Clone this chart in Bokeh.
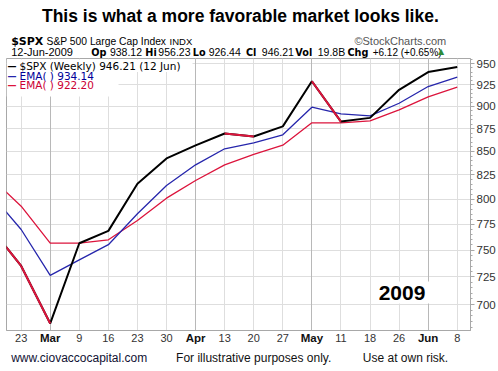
from bokeh.plotting import figure
from bokeh.layouts import column
from bokeh.models import (Range1d, FixedTicker, Label, BoxAnnotation, Grid,
                          NumeralTickFormatter, LinearAxis)
from bokeh.embed import file_html
from bokeh.resources import INLINE

# ---------------- data ----------------
week_index = list(range(-1, 16))          # -1 = week of Feb 16 (off the left edge)
tick_labels = ["23", "Mar", "9", "16", "23", "30", "Apr", "13", "20", "27",
               "May", "11", "18", "26", "Jun", "8"]
close = [770.05, 735.09, 683.38, 756.55, 768.54, 815.94, 842.50, 856.56, 869.60,
         866.23, 877.52, 929.23, 882.88, 887.00, 919.14, 940.09, 946.21]
ema_blue = [804.0, 769.9, 726.3, 740.8, 755.2, 785.4, 814.1, 835.7, 852.9,
            859.4, 868.2, 899.1, 891.6, 889.3, 903.6, 923.0, 934.14]
ema_red = [821.0, 793.0, 756.6, 756.6, 759.9, 778.7, 801.1, 819.3, 835.7,
           846.8, 856.8, 881.5, 881.5, 883.7, 896.1, 911.0, 922.20]
y_ticks = [700, 725, 750, 775, 800, 825, 850, 875, 900, 925, 950]

BLACK = "#000000"
BLUE = "#2626ac"
RED = "#dc143c"
GRID = "#dedede"
MONTH_GRID = "#b8b8b8"
AXIS = "#a8a8a8"

W = 498
HEADER_H = 58
MAIN_H = 288
FOOTER_H = 25
FRAME_LEFT = 6
FRAME_BOTTOM = 330


def strip(height):
    f = figure(width=W, height=height, x_range=Range1d(0, W), y_range=Range1d(0, height),
               output_backend="svg", toolbar_location=None, min_border=0,
               x_axis_location=None, y_axis_location=None)
    f.outline_line_color = None
    f.grid.visible = False
    return f


def put(f, text, px, py, top, height, size, bold=False, color="#000000",
        align="left", font="Liberation Sans"):
    # px, py: page position of the anchor; top: page y of the strip's top edge
    f.add_layout(Label(x=px, y=height - (py - top), x_units="data", y_units="data",
                       text=text, text_font=font, text_font_size=f"{size}px",
                       text_font_style="bold" if bold else "normal",
                       text_color=color, text_align=align, text_baseline="middle"))


# ---------------- header ----------------
head = strip(HEADER_H)
HT = 0
put(head, "This is what a more favorable market looks like.", 251, 15.5, HT, HEADER_H,
    17.5, bold=True, align="center")
put(head, "$SPX", 5, 40.5, HT, HEADER_H, 11, bold=True, font="DejaVu Sans")
put(head, "S&P 500 Large Cap Index", 43, 40.5, HT, HEADER_H, 10.3)
put(head, "INDX", 175, 40.5, HT, HEADER_H, 9.5)
put(head, "\u00a9StockCharts.com", 472, 40.5, HT, HEADER_H, 11, color="#555555",
    align="right")
put(head, "12-Jun-2009", 5, 51.5, HT, HEADER_H, 11)
for lbl, lx, val, vx, vs in [("Op", 91, "938.12", 111, 10.5), ("Hi", 149, "956.23", 163, 10.5),
                             ("Lo", 200, "926.44", 217, 10.5), ("Cl", 257, "946.21", 274, 10.5),
                             ("Vol", 310, "19.8B", 334, 10.5),
                             ("Chg", 366, "+6.12 (+0.65%)", 393, 10)]:
    put(head, lbl, lx, 51.5, HT, HEADER_H, 9.7, bold=True, font="DejaVu Sans")
    put(head, val, vx, 51.5, HT, HEADER_H, vs)
put(head, "\u25b2", 463, 51, HT, HEADER_H, 8, color="#2e8b3a", font="DejaVu Sans")

# ---------------- main chart ----------------
p = figure(width=W, height=MAIN_H, x_range=Range1d(-0.504, 15.456),
           y_range=Range1d(677.3, 956.4), y_axis_type="log",
           y_axis_location="right", output_backend="svg", toolbar_location=None,
           min_border_left=FRAME_LEFT, min_border_top=0, min_border_bottom=16,
           min_border_right=26)
p.outline_line_color = AXIS

p.xgrid.ticker = FixedTicker(ticks=list(range(len(tick_labels))))
p.xgrid.grid_line_color = GRID
p.ygrid.ticker = FixedTicker(ticks=y_ticks)
p.ygrid.grid_line_color = GRID
month_pos = [i for i, t in enumerate(tick_labels) if t.isalpha()]
p.add_layout(Grid(dimension=0, ticker=FixedTicker(ticks=month_pos),
                  grid_line_color=MONTH_GRID))

xa = p.xaxis[0]
xa.ticker = FixedTicker(ticks=list(range(len(tick_labels))))
xa.major_label_overrides = {i: ("" if t.isalpha() else t) for i, t in enumerate(tick_labels)}
xa.major_tick_line_color = None
xa.minor_tick_line_color = None
xa.major_tick_out = 0
xa.axis_line_color = AXIS
xa.major_label_text_font = "Liberation Sans"
xa.major_label_text_font_size = "11px"
xa.major_label_text_color = "#333333"
xa.major_label_standoff = 3

# bold month names on a second axis drawn onto the same label row
xm = LinearAxis(ticker=FixedTicker(ticks=month_pos),
                major_label_overrides={i: tick_labels[i] for i in month_pos},
                axis_line_color=None, major_tick_line_color=None,
                minor_tick_line_color=None, major_tick_out=0, major_tick_in=0,
                major_label_standoff=-13, major_label_text_font="Liberation Sans",
                major_label_text_font_size="11.5px", major_label_text_font_style="bold",
                major_label_text_color="#111111")
p.add_layout(xm, "below")

ya = p.yaxis[0]
ya.ticker = FixedTicker(ticks=y_ticks, minor_ticks=list(range(680, 956, 5)))
ya.formatter = NumeralTickFormatter(format="0")
ya.axis_line_color = AXIS
ya.major_tick_line_color = AXIS
ya.minor_tick_line_color = AXIS
ya.major_tick_out = 4
ya.major_tick_in = 0
ya.minor_tick_out = 2
ya.minor_tick_in = 0
ya.major_label_standoff = 2
ya.major_label_text_font = "Liberation Sans"
ya.major_label_text_font_size = "11.5px"
ya.major_label_text_color = "#333333"

p.line(week_index, ema_red, line_color=RED, line_width=1.3)
p.line(week_index, ema_blue, line_color=BLUE, line_width=1.3)
p.line(week_index, close, line_color=BLACK, line_width=2)
down = [k for k in range(1, len(close)) if close[k] < close[k - 1]]
p.segment(x0=[week_index[k - 1] for k in down], y0=[close[k - 1] for k in down],
          x1=[week_index[k] for k in down], y1=[close[k] for k in down],
          line_color=RED, line_width=2)


def ptext(text, px, py, size, bold=False, color="#000000", align="left",
          font="Liberation Sans", bg=None, padding=0):
    p.add_layout(Label(x=px - FRAME_LEFT, y=FRAME_BOTTOM - py, x_units="screen",
                       y_units="screen", text=text, text_font=font,
                       text_font_size=f"{size}px",
                       text_font_style="bold" if bold else "normal",
                       text_color=color, text_align=align, text_baseline="middle",
                       background_fill_color=bg, padding=padding))


# legend
for top, bottom, right in [(59, 71.5, 192), (71.5, 96, 118)]:
    p.add_layout(BoxAnnotation(left=0, right=right - FRAME_LEFT, top=FRAME_BOTTOM - top,
                               bottom=FRAME_BOTTOM - bottom, left_units="screen",
                               right_units="screen", top_units="screen",
                               bottom_units="screen", fill_color="white",
                               fill_alpha=1, line_color=None))
legend_rows = [("$SPX (Weekly) 946.21 (12 Jun)", BLACK, BLACK),
               (f"EMA( ) {ema_blue[-1]:.2f}", "#000099", BLUE),
               (f"EMA( ) {ema_red[-1]:.2f}", "#cc0033", RED)]
for k, (txt, tcol, lcol) in enumerate(legend_rows):
    ypos = 65.7 + 9.3 * k
    ptext("\u2014", 7, ypos, 9, bold=True, color=lcol, font="DejaVu Sans")
    ptext(txt, 19, ypos, 10.5, color=tcol, font="DejaVu Sans")

ptext("2009", 401.5, 292, 21, bold=True, align="center", bg="white", padding=4)

# ---------------- footer ----------------
foot = strip(FOOTER_H)
FT = HEADER_H + MAIN_H
put(foot, "www.ciovaccocapital.com", 5, 357, FT, FOOTER_H, 12, color="#111133")
put(foot, "For illustrative purposes only.", 182, 357, FT, FOOTER_H, 12, color="#111111")
put(foot, "Use at own risk.", 474, 357, FT, FOOTER_H, 12, color="#111111", align="right")

layout = column(head, p, foot, spacing=0)
open("out.html", "w").write(file_html(layout, INLINE))
